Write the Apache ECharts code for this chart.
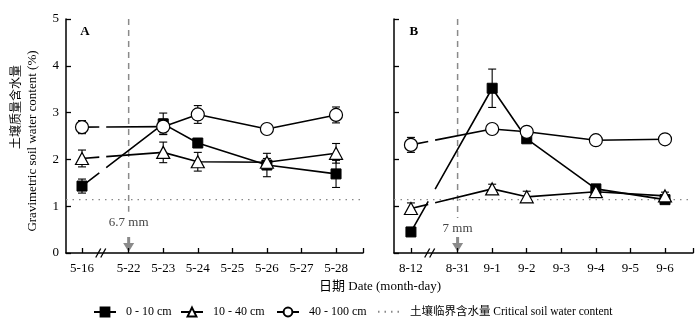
<!DOCTYPE html>
<html><head><meta charset="utf-8">
<script src="https://cdn.jsdelivr.net/npm/echarts@6/dist/echarts.min.js"></script>
<style>html,body{margin:0;padding:0;background:#fff}#c{width:700px;height:328px}</style>
</head><body><div id="c"></div>
<script>
// ---- data ----
const ticksA = ['5-16','5-22','5-23','5-24','5-25','5-26','5-27','5-28'];
const ticksB = ['8-12','8-31','9-1','9-2','9-3','9-4','9-5','9-6'];
const datesA = ['5-16','5-23','5-24','5-26','5-28'];
const datesB = ['8-12','9-1','9-2','9-4','9-6'];
const d010A  = [1.43, 2.76, 2.35, 1.88, 1.69];
const e010A  = [0.15, 0.23, 0.05, 0.25, 0.29];
const d1040A = [2.02, 2.15, 1.95, 1.94, 2.13];
const e1040A = [0.18, 0.22, 0.20, 0.08, 0.21];
const d40100A= [2.69, 2.70, 2.96, 2.65, 2.95];
const e40100A= [0.14, 0.16, 0.19, 0.08, 0.17];
const d010B  = [0.45, 3.52, 2.44, 1.37, 1.14];
const e010B  = [0.05, 0.41, 0.05, 0.05, 0.05];
const d1040B = [0.95, 1.37, 1.20, 1.31, 1.22];
const e1040B = [0.12, 0.10, 0.12, 0.10, 0.08];
const d40100B= [2.31, 2.65, 2.59, 2.41, 2.43];
const e40100B= [0.16, 0.06, 0.06, 0.07, 0.07];
const critical = 1.14;
const rainDates = ['5-22', '8-31'];
const rainLabels = ['6.7 mm', '7 mm'];
const seriesNames = ['0 - 10 cm', '10 - 40 cm', '40 - 100 cm'];
const criticalName = '土壤临界含水量 Critical soil water content';

// ---- layout helpers ----
const GAP = 1.35;          // axis-break width in category units
const BRK = 0.6;           // where the break marks sit
const HG = 0.1;            // half-gap of lines at break
const SERIF = "'Liberation Serif','Times New Roman',serif";
const CJK = "'Liberation Serif','Noto Sans CJK SC',serif";
function pos(ticks, label){ const i = ticks.indexOf(label); return i === 0 ? 0 : GAP + i - 1; }
const ranges = [[-0.463, 8.13], [-0.49, 8.16]];

function lineData(ticks, dates, vals){
  const pts = dates.map((d,i)=>[pos(ticks,d), vals[i]]);
  const [x0,y0] = pts[0], [x1,y1] = pts[1];
  const yAt = x => y0 + (y1 - y0) * (x - x0) / (x1 - x0);
  const out = [{value: pts[0]}];
  out.push({value: [BRK-HG, yAt(BRK-HG)], symbol: 'none'});
  out.push({value: [BRK, '-']});
  out.push({value: [BRK+HG, yAt(BRK+HG)], symbol: 'none'});
  for (let i = 1; i < pts.length; i++) out.push({value: pts[i]});
  return out;
}
const symStyles = [
  {symbol:'rect', symbolSize: 10, itemStyle:{color:'#000', borderColor:'#000', borderWidth:1}},
  {symbol:'triangle', symbolSize: [13,12], itemStyle:{color:'#fff', borderColor:'#000', borderWidth:1.2}},
  {symbol:'circle', symbolSize: 13, itemStyle:{color:'#fff', borderColor:'#000', borderWidth:1.2}}
];
function errSeries(g, ticks, dates, vals, errs){
  return {type:'custom', xAxisIndex:g, yAxisIndex:g, z:1, silent:true,
    renderItem:(p, api)=>{
      const x = api.value(0), y = api.value(1), e = api.value(2);
      const t = api.coord([x, y+e]), b = api.coord([x, y-e]), w = 4;
      const st = {stroke:'#000', lineWidth:1.1};
      return {type:'group', children:[
        {type:'line', shape:{x1:t[0],y1:t[1],x2:b[0],y2:b[1]}, style:st},
        {type:'line', shape:{x1:t[0]-w,y1:t[1],x2:t[0]+w,y2:t[1]}, style:st},
        {type:'line', shape:{x1:b[0]-w,y1:b[1],x2:b[0]+w,y2:b[1]}, style:st}
      ]};
    },
    data: dates.map((d,i)=>[pos(ticks,d), vals[i], errs[i]])};
}
function lineSeries(g, k, ticks, dates, vals){
  return Object.assign({type:'line', name: seriesNames[k], xAxisIndex:g, yAxisIndex:g, z:3,
    lineStyle:{color:'#000', width:1.6}, data: lineData(ticks, dates, vals)}, symStyles[k]);
}

const panels = [
  {ticks: ticksA, dates: datesA, d:[d010A,d1040A,d40100A], e:[e010A,e1040A,e40100A]},
  {ticks: ticksB, dates: datesB, d:[d010B,d1040B,d40100B], e:[e010B,e1040B,e40100B]}
];

const series = [];
panels.forEach((p, g)=>{
  series.push({type:'line', name: criticalName, xAxisIndex:g, yAxisIndex:g, symbol:'none', z:1,
    lineStyle:{color:'#888', width:1.4, type:[1.5,5]}, itemStyle:{color:'#888'},
    data: [[ranges[g][0], critical], [ranges[g][1], critical]]});
  const rx = pos(p.ticks, rainDates[g]);
  series.push({type:'line', xAxisIndex:g, yAxisIndex:g, symbol:'none', z:1, silent:true,
    lineStyle:{color:'#8a8a8a', width:1.5, type:[6,5]},
    data: [[rx, 5], [rx, g === 0 ? 0.88 : 0.75]]});
  for (let k = 0; k < 3; k++){
    series.push(errSeries(g, p.ticks, p.dates, p.d[k], p.e[k]));
    series.push(lineSeries(g, k, p.ticks, p.dates, p.d[k]));
  }
});

function xAxis(g){
  const ticks = panels[g].ticks;
  const vals = ticks.map(t=>pos(ticks,t));
  return {type:'value', gridIndex:g, min:ranges[g][0], max:ranges[g][1],
    axisLine:{onZero:false, lineStyle:{color:'#000', width:1.5}},
    axisTick:{inside:true, length:5, lineStyle:{color:'#000', width:1.3}, customValues: vals.concat([ranges[g][1]])},
    axisLabel:{customValues: vals, color:'#000', fontSize:13, fontFamily:SERIF, margin:9,
      formatter: v => { const i = vals.findIndex(x => Math.abs(x - v) < 1e-6); return i >= 0 ? ticks[i] : ''; }},
    splitLine:{show:false}};
}
function yAxis(g){
  return {type:'value', gridIndex:g, min:0, max:5, interval:1,
    axisLine:{show:true, onZero:false, lineStyle:{color:'#000', width:1.5}},
    axisTick:{show:true, inside:true, length:5, lineStyle:{color:'#000', width:1.3}},
    axisLabel:{show: g === 0, color:'#000', fontSize:13, fontFamily:SERIF, margin:7},
    splitLine:{show:false}};
}

const legendBase = {itemWidth:22, itemHeight:11, textStyle:{fontFamily:CJK, fontSize:12, color:'#000', padding:[0,0,0,5]}, top:301};
const chart = echarts.init(document.getElementById('c'));
chart.setOption({
  animation:false,
  backgroundColor:'#fff',
  grid:[{left:66, top:19, width:297, height:234}, {left:394, top:19, width:299, height:234}],
  xAxis:[xAxis(0), xAxis(1)],
  yAxis:[yAxis(0), yAxis(1)],
  legend:[
    Object.assign({}, legendBase, {data:[seriesNames[0]], left:88}),
    Object.assign({}, legendBase, {data:[seriesNames[1]], left:175}),
    Object.assign({}, legendBase, {data:[seriesNames[2]], left:271}),
    Object.assign({}, legendBase, {data:[{name:criticalName, itemStyle:{opacity:0}}], left:372,
      textStyle:{fontFamily:CJK, fontSize:11.5, color:'#000', padding:[0,0,0,5]}})
  ],
  series: series
});

// ---- annotations ----
const gr = [];
const px = (g, v) => chart.convertToPixel({gridIndex:g}, v);
['A','B'].forEach((lab, g)=>{
  const p0 = px(g, [0, 4.7]);
  gr.push({type:'text', x:p0[0]+3, y:p0[1]-1, style:{text:lab, font:"bold 13px " + SERIF, fill:'#000', align:'center', verticalAlign:'middle'}});
  const rx = pos(panels[g].ticks, rainDates[g]);
  const tp = px(g, [rx, g === 0 ? 0.64 : 0.53]);
  gr.push({type:'text', x:tp[0], y:tp[1], style:{text:rainLabels[g], font:"13px " + SERIF, fill:'#444', align:'center', verticalAlign:'middle'}});
  const a0 = px(g, [rx, 0.34]), a1 = px(g, [rx, 0]);
  const ax = a0[0], ay0 = a0[1], ay1 = a1[1] - 1;
  gr.push({type:'polygon', shape:{points:[[ax-1.5,ay0],[ax+1.5,ay0],[ax+1.5,ay0+6],[ax+5.5,ay0+6],[ax,ay1],[ax-5.5,ay0+6],[ax-1.5,ay0+6]]}, style:{fill:'#8a8a8a'}});
  const b = px(g, [BRK, 0]);
  gr.push({type:'rect', shape:{x:b[0]-3.5, y:b[1]-2, width:5, height:4}, style:{fill:'#fff'}});
  gr.push({type:'line', shape:{x1:b[0]-7, y1:b[1]+4.5, x2:b[0]-2, y2:b[1]-4.5}, style:{stroke:'#000', lineWidth:1.3}});
  gr.push({type:'line', shape:{x1:b[0]-2, y1:b[1]+4.5, x2:b[0]+3, y2:b[1]-4.5}, style:{stroke:'#000', lineWidth:1.3}});
});
gr.push({type:'text', x:15, y:107, rotation:Math.PI/2, style:{text:'土壤质量含水量', font:"12px 'Noto Sans CJK SC'", fill:'#000', align:'center', verticalAlign:'middle'}});
gr.push({type:'text', x:33, y:141, rotation:Math.PI/2, style:{text:'Gravimetric soil water content (%)', font:"13px " + SERIF, fill:'#000', align:'center', verticalAlign:'middle'}});
gr.push({type:'text', x:380, y:287, style:{text:'日期 Date (month-day)', font:"13px " + CJK, fill:'#000', align:'center', verticalAlign:'middle'}});
chart.setOption({graphic: gr});
</script></body></html>
